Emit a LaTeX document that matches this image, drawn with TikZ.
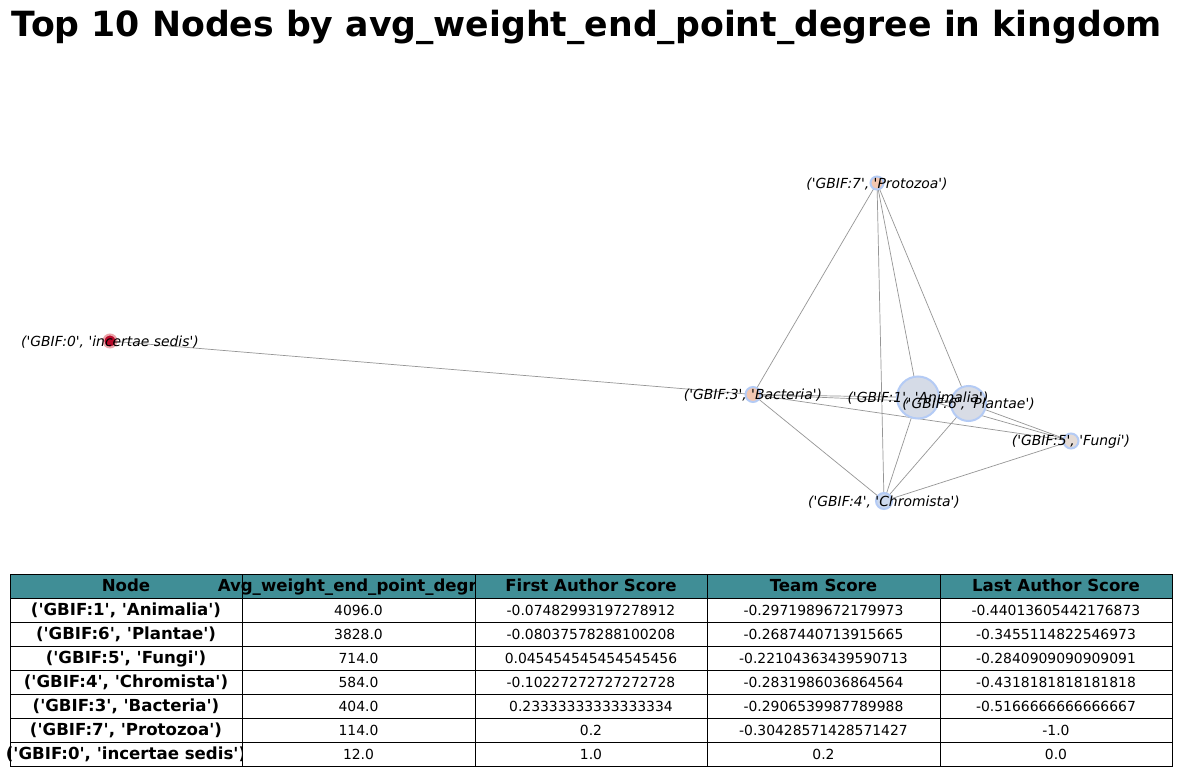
\documentclass[tikz,border=0pt]{standalone}
\usepackage{fontspec}
\setmainfont{DejaVu Sans}[Ligatures=TeXOff]
\usetikzlibrary{backgrounds}
\pgfdeclarelayer{canvasbg}
\pgfsetlayers{canvasbg,background,main}
\definecolor{hdrteal}{RGB}{64,142,150}
\definecolor{edgegray}{RGB}{150,150,150}
\definecolor{nborder}{RGB}{180,203,245}
\definecolor{animfill}{RGB}{213,219,231}
\definecolor{plantfill}{RGB}{216,220,229}
\definecolor{fungifill}{RGB}{228,219,214}
\definecolor{chromfill}{RGB}{205,217,238}
\definecolor{peachfill}{RGB}{243,199,177}
\definecolor{redfill}{RGB}{184,10,42}
\definecolor{redborder}{RGB}{236,165,170}
\newcommand\bodyfont{\fontsize{13.9}{16}\selectfont}
\newcommand\boldfont{\fontsize{16.6}{19}\selectfont\bfseries}
\newcommand\mycell[7]{%
  \draw[fill=#6, line width=1pt] (#2,#3) rectangle (#4,#5);
  \node[inner sep=0pt, text height=0.75em, text depth=0.22em, yshift=-2.5pt] (#1) at ({(#2+#4)/2},{(#3+#5)/2}) {#7};}
\newcommand\trow[7]{%
  \mycell{r#1c0}{10}{#2}{242}{#2+24}{white}{\boldfont #3}%
  \mycell{r#1c1}{242}{#2}{475}{#2+24}{white}{\bodyfont #4}%
  \mycell{r#1c2}{475}{#2}{707}{#2+24}{white}{\bodyfont #5}%
  \mycell{r#1c3}{707}{#2}{940}{#2+24}{white}{\bodyfont #6}%
  \mycell{r#1c4}{940}{#2}{1172}{#2+24}{white}{\bodyfont #7}}
\tikzset{
  gnode/.style={circle, inner sep=0pt, draw=nborder, line width=2pt},
  glabel/.style={font=\fontsize{13.9}{16}\selectfont\itshape, inner sep=0pt, yshift=-1pt},
  gedge/.style={draw=edgegray, line width=0.7pt}
}
\begin{document}
\begin{tikzpicture}[x=1pt,y=-1pt]
\begin{pgfonlayer}{canvasbg}
\fill[white] (0,0) rectangle (1181,776);
\end{pgfonlayer}
\useasboundingbox (0,0) rectangle (1181,776);
\node[font=\fontsize{34.7}{40}\selectfont\bfseries, anchor=base, inner sep=0pt] (title) at (587,36.5) {Top 10 Nodes by avg\_weight\_end\_point\_degree in kingdom};

% graph nodes
\node[gnode, minimum size=42pt, fill=animfill] (n1) at (918,397.5) {};
\node[gnode, minimum size=35pt, fill=plantfill] (n6) at (968.5,403.5) {};
\node[gnode, minimum size=15pt, fill=fungifill] (n5) at (1071,441) {};
\node[gnode, minimum size=16pt, fill=chromfill] (n4) at (884,501) {};
\node[gnode, minimum size=15pt, fill=peachfill] (n3) at (753,394.5) {};
\node[gnode, minimum size=13pt, fill=peachfill] (n7) at (877,183) {};
\node[circle, inner sep=0pt, draw=redborder, line width=2pt, minimum size=13pt, fill=redfill] (n0) at (110,341) {};

\begin{scope}[on background layer]
\draw[gedge] (n0.center) -- (n3.center);
\draw[gedge] (n7.center) -- (n3.center);
\draw[gedge] (n7.center) -- (n4.center);
\draw[gedge] (n7.center) -- (n1.center);
\draw[gedge] (n7.center) -- (n6.center);
\draw[gedge] (n3.center) -- (n1.center);
\draw[gedge] (n3.center) -- (n6.center);
\draw[gedge] (n3.center) -- (n5.center);
\draw[gedge] (n3.center) -- (n4.center);
\draw[gedge] (n1.center) -- (n6.center);
\draw[gedge] (n1.center) -- (n5.center);
\draw[gedge] (n1.center) -- (n4.center);
\draw[gedge] (n6.center) -- (n5.center);
\draw[gedge] (n6.center) -- (n4.center);
\draw[gedge] (n4.center) -- (n5.center);
\end{scope}

% labels
\node[glabel] (l1) at (n1) {('GBIF:1', 'Animalia')};
\node[glabel] (l6) at (n6) {('GBIF:6', 'Plantae')};
\node[glabel] (l5) at (n5) {('GBIF:5', 'Fungi')};
\node[glabel] (l4) at (n4) {('GBIF:4', 'Chromista')};
\node[glabel] (l3) at (n3) {('GBIF:3', 'Bacteria')};
\node[glabel] (l7) at (n7) {('GBIF:7', 'Protozoa')};
\node[glabel] (l0) at (n0) {('GBIF:0', 'incertae sedis')};

% table
\mycell{h0}{10}{574}{242}{598}{hdrteal}{\boldfont Node}
\mycell{h1}{242}{574}{475}{598}{hdrteal}{\boldfont Avg\_weight\_end\_point\_degree}
\mycell{h2}{475}{574}{707}{598}{hdrteal}{\boldfont First Author Score}
\mycell{h3}{707}{574}{940}{598}{hdrteal}{\boldfont Team Score}
\mycell{h4}{940}{574}{1172}{598}{hdrteal}{\boldfont Last Author Score}
\trow{1}{598}{('GBIF:1', 'Animalia')}{4096.0}{-0.07482993197278912}{-0.2971989672179973}{-0.44013605442176873}
\trow{2}{622}{('GBIF:6', 'Plantae')}{3828.0}{-0.08037578288100208}{-0.2687440713915665}{-0.3455114822546973}
\trow{3}{646}{('GBIF:5', 'Fungi')}{714.0}{0.045454545454545456}{-0.22104363439590713}{-0.2840909090909091}
\trow{4}{670}{('GBIF:4', 'Chromista')}{584.0}{-0.10227272727272728}{-0.2831986036864564}{-0.4318181818181818}
\trow{5}{694}{('GBIF:3', 'Bacteria')}{404.0}{0.23333333333333334}{-0.2906539987789988}{-0.5166666666666667}
\trow{6}{718}{('GBIF:7', 'Protozoa')}{114.0}{0.2}{-0.30428571428571427}{-1.0}
\trow{7}{742}{('GBIF:0', 'incertae sedis')}{12.0}{1.0}{0.2}{0.0}
\end{tikzpicture}
\end{document}
